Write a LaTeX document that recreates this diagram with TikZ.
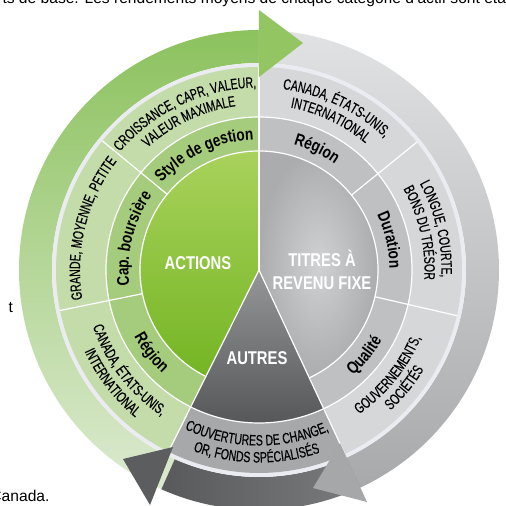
\documentclass[tikz,border=0pt]{standalone}
\usepackage{fontspec}
\setmainfont{Liberation Sans}
\newfontfamily\cndfont[FakeStretch=0.70, FakeBold=0.3]{Liberation Sans}
\newfontfamily\cndbfont[FakeStretch=0.80]{Liberation Sans Bold}
\usetikzlibrary{decorations.text}

\definecolor{grnbandA}{HTML}{8CC25E}
\definecolor{grnbandB}{HTML}{DCEAD0}
\definecolor{grnhead}{HTML}{93C563}
\definecolor{grnout}{HTML}{C3DCAA}
\definecolor{grnmid}{HTML}{A5CC7C}
\definecolor{grnhubA}{HTML}{A9D25C}
\definecolor{grnhubM}{HTML}{A2CE50}
\definecolor{grnhubB}{HTML}{74B524}
\definecolor{grybandA}{HTML}{E1E2E4}
\definecolor{grybandB}{HTML}{A8A9AB}
\definecolor{gryhead}{HTML}{A6A7A9}
\definecolor{gryout}{HTML}{D6D7D9}
\definecolor{grymid}{HTML}{BFC0C2}
\definecolor{gryhubA}{HTML}{D0D1D3}
\definecolor{gryhubB}{HTML}{ABACAE}
\definecolor{drkbandA}{HTML}{58595B}
\definecolor{drkbandB}{HTML}{7A7B7D}
\definecolor{drkhead}{HTML}{5C5D5F}
\definecolor{othout}{HTML}{A7A8AA}
\definecolor{othhubA}{HTML}{959698}
\definecolor{othhubB}{HTML}{545557}
\definecolor{sepring}{HTML}{EAECF1}

\newcommand\ringfont{\cndfont\fontsize{15}{17}\selectfont}
\newcommand\midfont{\cndbfont\fontsize{17}{19}\selectfont}
\newcommand\hubfont{\cndbfont\fontsize{18.5}{23}\selectfont}

\begin{document}
\begin{tikzpicture}[x=1pt, y=1pt,
	sepline/.style={white, line width=1.2pt},
	arctext/.style={decorate, decoration={text along path, text align=center, text={#1}}},
	hublabel/.style={text=white, align=center, font=\hubfont},
	pagetext/.style={font=\fontsize{15.6}{18}\selectfont}]
\useasboundingbox (-259,-236) rectangle (247,270);
\clip (-259,-236) rectangle (247,270);

% arrow bands
\shade[top color=grnbandA, bottom color=grnbandB] (90:240) arc[start angle=90, end angle=246, radius=240] -- (246:207) arc[start angle=246, end angle=90, radius=207] -- cycle;
\shade[top color=grybandA, bottom color=grybandB] (90:240) arc[start angle=90, end angle=-65, radius=240] -- (-65:207) arc[start angle=-65, end angle=90, radius=207] -- cycle;
\shade[left color=drkbandA, right color=drkbandB] (-65:240) arc[start angle=-65, end angle=-114, radius=240] -- (-114:207) arc[start angle=-114, end angle=-65, radius=207] -- cycle;
\fill[sepring] (0,0) circle[radius=207];

% actions
\fill[grnout] (90:203) arc[start angle=90, end angle=243.5, radius=203] -- (243.5:153) arc[start angle=243.5, end angle=90, radius=153] -- cycle;
\fill[grnmid] (90:153) arc[start angle=90, end angle=243.5, radius=153] -- (243.5:119) arc[start angle=243.5, end angle=90, radius=119] -- cycle;
\shade[top color=grnhubA, middle color=grnhubM, bottom color=grnhubB] (0,0) -- (90:119) arc[start angle=90, end angle=243.5, radius=119] -- cycle;

% titres a revenu fixe
\fill[gryout] (90:203) arc[start angle=90, end angle=-65, radius=203] -- (-65:153) arc[start angle=-65, end angle=90, radius=153] -- cycle;
\fill[grymid] (90:153) arc[start angle=90, end angle=-65, radius=153] -- (-65:119) arc[start angle=-65, end angle=90, radius=119] -- cycle;
\shade[inner color=gryhubA, outer color=gryhubB] (0,0) -- (90:119) arc[start angle=90, end angle=-65, radius=119] -- cycle;

% autres
\fill[othout] (243.5:203) arc[start angle=243.5, end angle=295, radius=203] -- (295:153) arc[start angle=295, end angle=243.5, radius=153] -- cycle;
\shade[top color=othhubA, bottom color=othhubB] (0,0) -- (243.5:153) arc[start angle=243.5, end angle=295, radius=153] -- cycle;

\draw[sepline] (0,0) circle[radius=153];
\draw[sepline] (-65:119) arc[start angle=-65, end angle=243.5, radius=119];
\foreach \ang in {90,243.5,-65}
	\draw[sepline] (0,0) -- (\ang:203);
\foreach \ang in {140.5,191.5,39,-13}
	\draw[sepline] (\ang:119) -- (\ang:203);

% arrow heads
\fill[grnhead] (0,260) -- (44,227) -- (0,193) -- cycle;
\fill[gryhead] (81,-173) -- (54,-218) -- (108,-232) -- cycle;
\fill[drkhead] (-86,-177) -- (-136,-189) -- (-109,-235) -- cycle;

% middle ring labels
\path[arctext={|\midfont|Style de gestion}] (150.25:130.5) arc[start angle=150.25, end angle=80.25, radius=130.5];
\path[arctext={|\midfont|Cap. boursière}] (201:130.5) arc[start angle=201, end angle=131, radius=130.5];
\path[arctext={|\midfont|Région}] (182.5:141.5) arc[start angle=182.5, end angle=252.5, radius=141.5];
\path[arctext={|\midfont|Région}] (99.5:130.5) arc[start angle=99.5, end angle=29.5, radius=130.5];
\path[arctext={|\midfont|Duration}] (48:130.5) arc[start angle=48, end angle=-22, radius=130.5];
\path[arctext={|\midfont|Qualité}] (-74:141.5) arc[start angle=-74, end angle=-4, radius=141.5];

% outer ring labels
\path[arctext={|\ringfont|CROISSANCE, CAPR, VALEUR,}] (150.25:182.5) arc[start angle=150.25, end angle=80.25, radius=182.5];
\path[arctext={|\ringfont|VALEUR MAXIMALE}] (150.25:165.5) arc[start angle=150.25, end angle=80.25, radius=165.5];
\path[arctext={|\ringfont|GRANDE, MOYENNE, PETITE}] (201:179) arc[start angle=201, end angle=131, radius=179];
\path[arctext={|\ringfont|CANADA, ÉTATS-UNIS,}] (182.5:175.5) arc[start angle=182.5, end angle=252.5, radius=175.5];
\path[arctext={|\ringfont|INTERNATIONAL}] (182.5:192.5) arc[start angle=182.5, end angle=252.5, radius=192.5];
\path[arctext={|\ringfont|CANADA, ÉTATS-UNIS,}] (99.5:182.5) arc[start angle=99.5, end angle=29.5, radius=182.5];
\path[arctext={|\ringfont|INTERNATIONAL}] (99.5:165.5) arc[start angle=99.5, end angle=29.5, radius=165.5];
\path[arctext={|\ringfont|LONGUE, COURTE,}] (48:182.5) arc[start angle=48, end angle=-22, radius=182.5];
\path[arctext={|\ringfont|BONS DU TRÉSOR}] (48:165.5) arc[start angle=48, end angle=-22, radius=165.5];
\path[arctext={|\ringfont|GOUVERNEMENTS,}] (-74:175.5) arc[start angle=-74, end angle=-4, radius=175.5];
\path[arctext={|\ringfont|SOCIÉTÉS}] (-74:192.5) arc[start angle=-74, end angle=-4, radius=192.5];
\path[arctext={|\ringfont|COUVERTURES DE CHANGE,}] (234.25:175.5) arc[start angle=234.25, end angle=304.25, radius=175.5];
\path[arctext={|\ringfont|OR, FONDS SPÉCIALISÉS}] (234.25:192.5) arc[start angle=234.25, end angle=304.25, radius=192.5];

\node[hublabel] (actions) at (-61,7) {ACTIONS};
\node[hublabel] (titres) at (63,0) {TITRES À\\REVENU FIXE};
\node[hublabel] (autres) at (-2,-88) {AUTRES};

\node[pagetext, anchor=base west] (toptext) at (-260,266) {ts de base. Les rendements moyens de chaque catégorie d'actif sont éta};
\node[pagetext, anchor=base west] (lefttext) at (-254,-42) {t};
\node[pagetext, anchor=base east] (bottext) at (-206,-231) {Canada.};
\end{tikzpicture}
\end{document}
